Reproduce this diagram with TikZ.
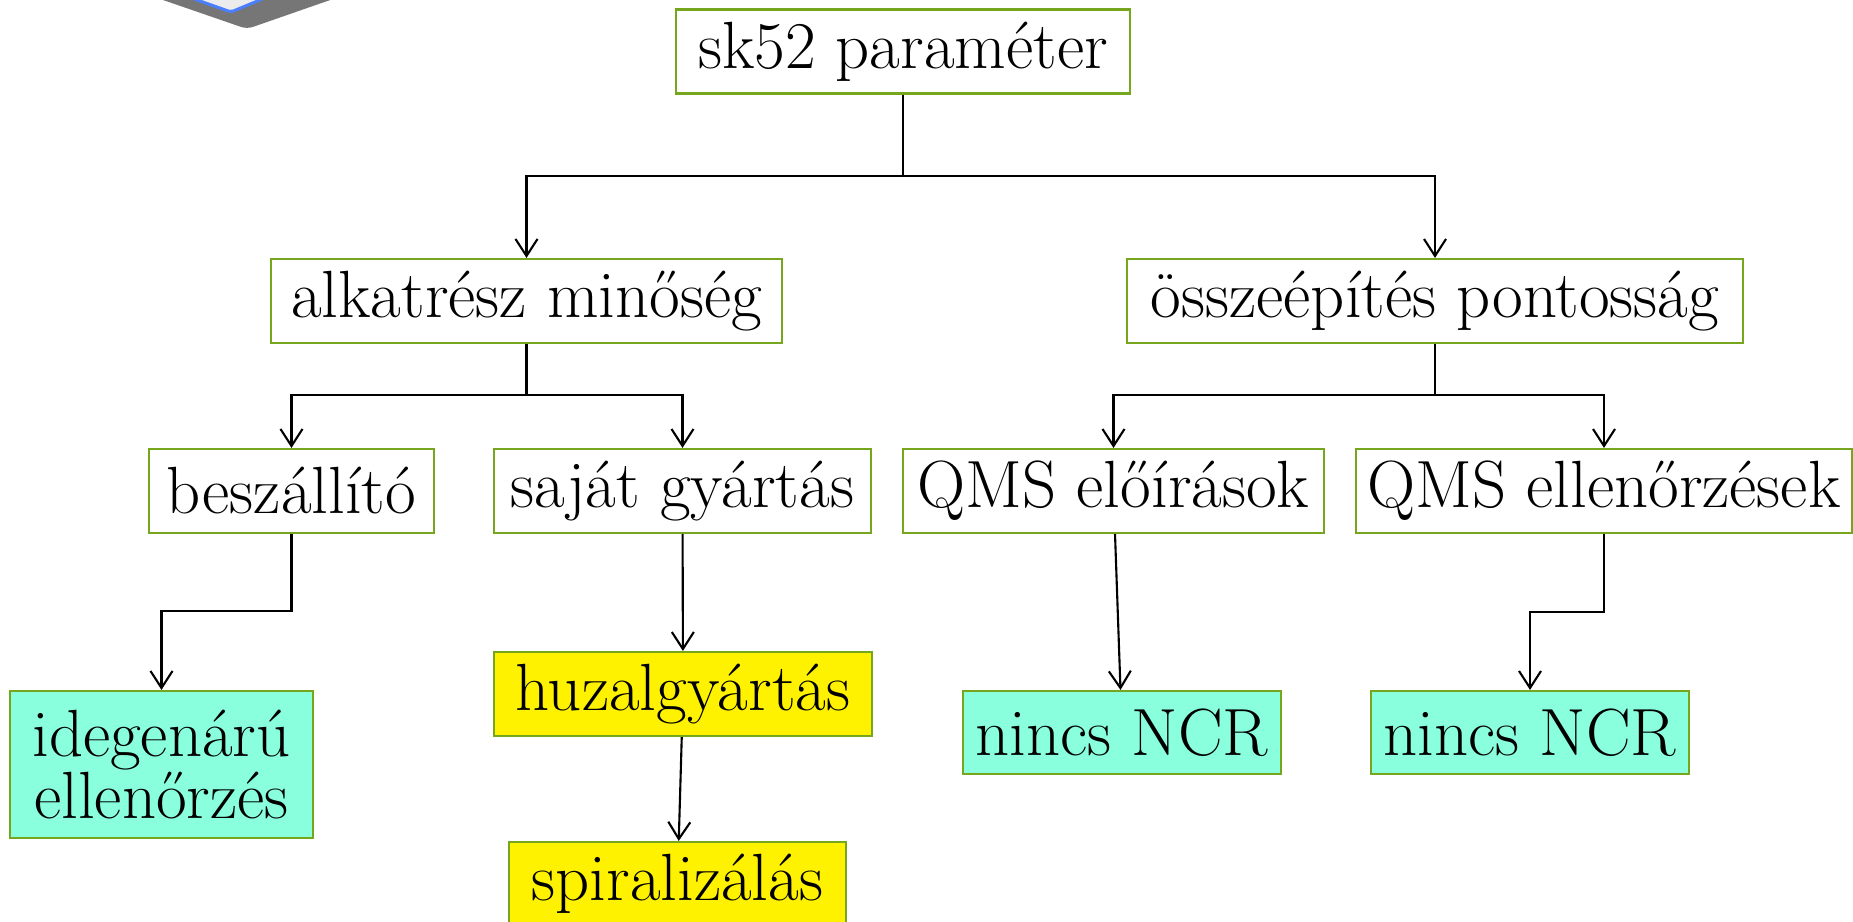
\documentclass[tikz,border=0pt]{standalone}
\usepackage{fontspec}
\usepackage[dvipsnames]{xcolor}
\usetikzlibrary{arrows.meta}

\definecolor{boxgreen}{RGB}{118,166,30}
\definecolor{ncrcyan}{RGB}{138,255,221}
\definecolor{shadowgray}{RGB}{118,118,118}
\definecolor{iconblue}{RGB}{74,128,255}

\tikzset{
	box/.style = {rectangle, draw = boxgreen, line width = 0.6pt, fill = white, inner sep = 0pt, minimum height = 0.84cm, align = center, font = \fontsize{19}{17.4}\selectfont},
	okbox/.style = {box, fill = ncrcyan},
	workbox/.style = {box, fill = yellow},
	link/.style = {-{Straight Barb[length = 1.7mm, width = 2.2mm]}, line width = 0.6pt},
}

\begin{document}
\begin{tikzpicture}
				\useasboundingbox (0,0) rectangle (18.53,-9.22);
				
				\fill[shadowgray, rounded corners = 0.06cm] (1.34,0.1) -- (2.47,-0.29) -- (3.59,0.1) -- cycle;
				\filldraw[fill = gray!15, draw = iconblue, line width = 0.03cm, rounded corners = 0.03cm] (1.69,0.1) -- (2.31,-0.12) -- (2.84,0.1);
				
				\node[box, minimum width = 4.54cm] at (9.03,-0.515) (top) {sk52 paraméter};
				
				\node[box, minimum width = 5.11cm] at (5.265,-3.01) (alk) {alkatrész minőség};
				\node[box, minimum width = 6.16cm] at (14.35,-3.01) (ossz) {összeépítés pontosság};
				
				\node[box, minimum width = 2.85cm] at (2.915,-4.91) (besz) {beszállító};
				\node[box, minimum width = 3.77cm] at (6.825,-4.91) (sajat) {saját gyártás};
				\node[box, minimum width = 4.21cm] at (11.135,-4.91) (qms_elo) {QMS előírások};
				\node[box, minimum width = 4.96cm] at (16.04,-4.91) (qms_ell) {QMS ellenőrzések};
				
				\node[okbox, minimum width = 3.03cm, minimum height = 1.47cm] at (1.615,-7.645) (idegen) {idegenárú\\ellenőrzés};
				\node[workbox, minimum width = 3.78cm] at (6.83,-6.94) (huzal) {huzalgyártás};
				\node[workbox, minimum width = 3.37cm] at (6.775,-8.84) (spiral) {spiralizálás};
				\node[okbox, minimum width = 3.18cm, minimum height = 0.83cm] at (11.22,-7.325) (ncr_elo) {nincs NCR};
				\node[okbox, minimum width = 3.18cm, minimum height = 0.83cm] at (15.30,-7.325) (ncr_ell) {nincs NCR};
				
				\coordinate (split_top) at (9.03,-1.76);
				\coordinate (split_alk) at (5.265,-3.95);
				\coordinate (split_ossz) at (14.35,-3.95);
				\coordinate (kink_besz) at (2.915,-6.11);
				\coordinate (kink_ell) at (16.04,-6.12);
				
				\draw[link] (top.south) -- (split_top) -| (alk.north);
				\draw[link] (split_top) -| (ossz.north);
				
				\draw[link] (alk.south) -- (split_alk) -| (besz.north);
				\draw[link] (split_alk) -| (sajat.north);
				\draw[link] (ossz.south) -- (split_ossz) -| (qms_elo.north);
				\draw[link] (split_ossz) -| (qms_ell.north);
				
				\draw[link] (besz.south) -- (kink_besz) -| (idegen.north);
				\draw[link] (sajat) -- (huzal);
				\draw[link] (huzal) -- (spiral);
				\draw[link] (qms_elo) -- (ncr_elo);
				\draw[link] (qms_ell.south) -- (kink_ell) -| (ncr_ell.north);
\end{tikzpicture}
\end{document}
